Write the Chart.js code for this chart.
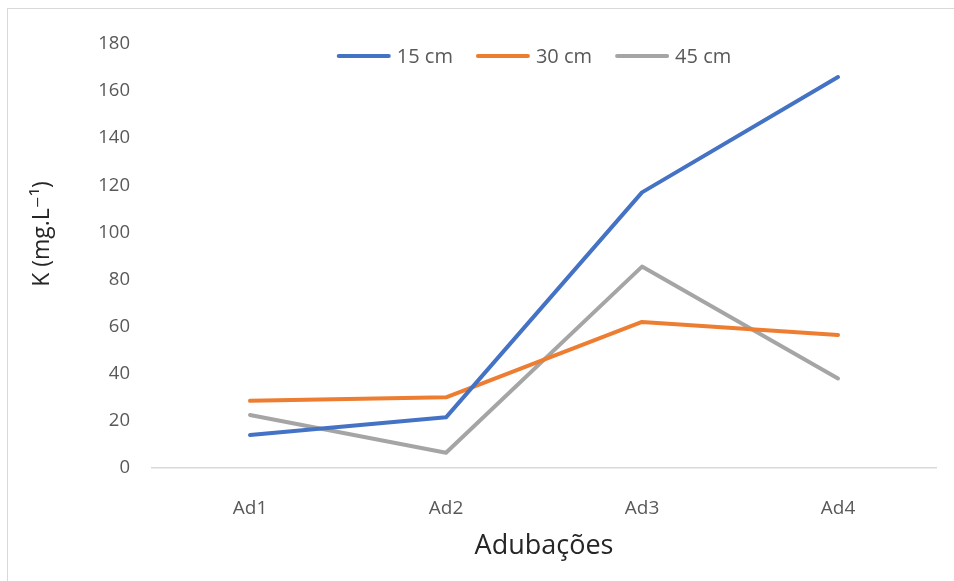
<!DOCTYPE html>
<html>
<head>
<meta charset="utf-8">
<script src="https://cdn.jsdelivr.net/npm/chart.js@4.4.1/dist/chart.umd.min.js"></script>
<style>
  html, body { margin: 0; padding: 0; background: #ffffff; }
  #wrap { position: relative; width: 954px; height: 581px; overflow: hidden; }
  #frame { position: absolute; left: 7px; top: 8px; width: 1000px; height: 640px;
           border-top: 1px solid #d9d9d9; border-left: 1px solid #d9d9d9; pointer-events: none; }
  canvas { display: block; }
</style>
</head>
<body>
<div id="wrap">
  <canvas id="c" width="954" height="581"></canvas>
  <div id="frame"></div>
</div>
<script>
// Potássio (K) por adubação, em três profundidades
const categories = ['Ad1', 'Ad2', 'Ad3', 'Ad4'];
const seriesNames = ['15 cm', '30 cm', '45 cm'];
const k15cm = [14, 21.5, 117, 166];
const k30cm = [28.5, 30, 62, 56.5];
const k45cm = [22.5, 6.5, 85.5, 38];
const yTickValues = [0, 20, 40, 60, 80, 100, 120, 140, 160, 180];

const yTitle = 'K (mg.L⁻¹)';
const xTitle = 'Adubações';

const colors = ['#4472C4', '#ED7D31', '#A5A5A5'];
const FONT = "'Open Sans', 'DejaVu Sans', sans-serif";

function lineDataset(label, data, color) {
  return {
    label, data,
    borderColor: color,
    backgroundColor: color,
    borderWidth: 4,
    borderCapStyle: 'round',
    borderJoinStyle: 'round',
    pointRadius: 0,
    pointHoverRadius: 0,
    tension: 0,
    fill: false
  };
}

// Legend drawn across the top of the plot, as a row of line swatches
const topLegend = {
  id: 'topLegend',
  afterDraw(chart) {
    const { ctx, chartArea } = chart;
    const swatch = 54, gapText = 6, gapItem = 23, cy = 56;
    ctx.save();
    ctx.font = `20px ${FONT}`;
    const items = chart.data.datasets.map(ds => ({
      label: ds.label, color: ds.borderColor, w: ctx.measureText(ds.label).width
    }));
    const total = items.reduce((s, it) => s + swatch + gapText + it.w, 0) + gapItem * (items.length - 1);
    let x = (chartArea.left + chartArea.right) / 2 - 10 - total / 2;
    ctx.textBaseline = 'middle';
    ctx.textAlign = 'left';
    items.forEach(it => {
      ctx.strokeStyle = it.color;
      ctx.lineWidth = 4;
      ctx.lineCap = 'round';
      ctx.beginPath();
      ctx.moveTo(x + 2, cy);
      ctx.lineTo(x + swatch - 2, cy);
      ctx.stroke();
      x += swatch + gapText;
      ctx.fillStyle = '#595959';
      ctx.fillText(it.label, x, cy + 1);
      x += it.w + gapItem;
    });
    ctx.restore();
  }
};

// Rotated title for the value axis
const valueAxisTitle = {
  id: 'valueAxisTitle',
  afterDraw(chart) {
    const { ctx } = chart;
    ctx.save();
    ctx.translate(42, 234);
    ctx.rotate(-Math.PI / 2);
    ctx.font = `23px ${FONT}`;
    ctx.fillStyle = '#262626';
    ctx.textAlign = 'center';
    ctx.textBaseline = 'middle';
    ctx.fillText(yTitle, 0, 0);
    ctx.restore();
  }
};

new Chart(document.getElementById('c'), {
  type: 'line',
  data: {
    labels: categories,
    datasets: [
      lineDataset(seriesNames[0], k15cm, colors[0]),
      lineDataset(seriesNames[1], k30cm, colors[1]),
      lineDataset(seriesNames[2], k45cm, colors[2])
    ]
  },
  options: {
    responsive: false,
    animation: false,
    devicePixelRatio: 1,
    layout: { padding: { top: 44, right: 18, bottom: 0, left: 0 } },
    plugins: {
      legend: { display: false },
      tooltip: { enabled: false },
      title: { display: false }
    },
    scales: {
      x: {
        offset: true,
        grid: { display: false, drawTicks: false },
        border: { display: true, color: '#d9d9d9', width: 1.5 },
        ticks: { color: '#595959', font: { family: FONT, size: 19 }, padding: 29 },
        title: {
          display: true, text: xTitle, color: '#262626',
          font: { family: FONT, size: 27 }, padding: { top: 0, bottom: 18 }
        },
        afterFit(scale) { scale.height = 113; }
      },
      y: {
        min: 0, max: 180,
        afterBuildTicks(scale) { scale.ticks = yTickValues.map(v => ({ value: v })); },
        grid: { display: false, drawTicks: false },
        border: { display: false },
        ticks: { color: '#595959', font: { family: FONT, size: 18.5 }, padding: 22 },
        afterFit(scale) { scale.width = 152; }
      }
    }
  },
  plugins: [topLegend, valueAxisTitle]
});
</script>
</body>
</html>
